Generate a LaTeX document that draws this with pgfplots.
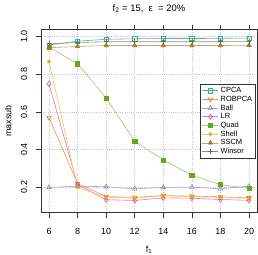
\documentclass[border=0pt]{standalone}
\usepackage{pgfplots}
\pgfplotsset{compat=1.18}
\usepackage{fontspec}
\setmainfont{Liberation Sans}
\definecolor{cCPCA}{HTML}{1B9E77}
\definecolor{cROB}{HTML}{D95F02}
\definecolor{cBall}{HTML}{7570B3}
\definecolor{cLR}{HTML}{E7298A}
\definecolor{cQuad}{HTML}{66A61E}
\definecolor{cShell}{HTML}{E6AB02}
\definecolor{cSSCM}{HTML}{A6761D}
\definecolor{cWin}{HTML}{666666}
\begin{document}
\begin{tikzpicture}
\useasboundingbox (-41bp,-42.3bp) rectangle (217bp,212.7bp);
\begin{axis}[
  scale only axis,
  width=216bp, height=183bp,
  xmin=5.44, xmax=20.56,
  ymin=0.064, ymax=1.036,
  xtick={6,8,10,12,14,16,18,20},
  ytick={0.2,0.4,0.6,0.8,1.0},
  yticklabels={0.2,0.4,0.6,0.8,1.0},
  tick align=outside,
  major tick length=5bp,
  tick style={black!80, line width=0.5bp},
  axis line style={black!80, line width=0.6bp},
  grid=major,
  major grid style={dash pattern=on 0.6bp off 1.6bp, black!22, line width=0.5bp},
  /pgf/number format/assume math mode=true,
  tick label style={font=\fontsize{9}{10}\selectfont},
  xticklabel style={anchor=center, yshift=-14bp},
  yticklabel style={rotate=90, anchor=center, yshift=12bp},
  xlabel={f\textsubscript{1}},
  ylabel={maxsub},
  xlabel style={font=\fontsize{9}{10}\selectfont, at={(axis description cs:0.5,-0.219)}, anchor=base},
  ylabel style={font=\fontsize{9}{10}\selectfont, at={(axis description cs:-0.152,0.5)}, anchor=center},
  title={f\textsubscript{2} = 15,\ \ ε\ \ = 20\%},
  title style={font=\fontsize{9.5}{10}\selectfont, at={(axis description cs:0.5,1.083)}, anchor=center},
  legend style={at={(rel axis cs:0.995,0.705)}, anchor=north east, draw=black!80, line width=0.5bp,
    font=\fontsize{7.5}{8}\selectfont, inner sep=1.5bp, row sep=-2.1bp,
    cells={anchor=west}},
  legend image code/.code={
    \draw[mark repeat=2,mark phase=2] plot coordinates {(0cm,0cm) (0.28cm,0cm) (0.56cm,0cm)};},
  every axis plot/.append style={line width=0.6bp},
]
\addplot[color=cCPCA!75, mark=square, mark size=2.1bp, mark options={solid, draw=cCPCA!85, line width=0.6bp}] coordinates {
(6,0.955) (8,0.975) (10,0.985) (12,0.988) (14,0.989) (16,0.989) (18,0.990) (20,0.992)};
\addlegendentry{CPCA}
\addplot[color=cROB!65, mark=triangle, mark size=2.6bp, mark options={rotate=180, draw=cROB!85, line width=0.6bp}] coordinates {
(6,0.569) (8,0.218) (10,0.150) (12,0.145) (14,0.155) (16,0.152) (18,0.148) (20,0.143)};
\addlegendentry{ROBPCA}
\addplot[color=cBall!65, mark=triangle, mark size=2.6bp, mark options={draw=cBall!85, line width=0.6bp}] coordinates {
(6,0.198) (8,0.205) (10,0.202) (12,0.191) (14,0.198) (16,0.200) (18,0.191) (20,0.205)};
\addlegendentry{Ball}
\addplot[color=cLR!65, mark=diamond, mark size=2.6bp, mark options={draw=cLR!85, line width=0.6bp}] coordinates {
(6,0.748) (8,0.213) (10,0.133) (12,0.129) (14,0.143) (16,0.141) (18,0.134) (20,0.130)};
\addlegendentry{LR}
\addplot[color=cQuad!65, mark=square*, mark size=2.1bp, mark options={draw=cQuad, fill=cQuad}] coordinates {
(6,0.943) (8,0.855) (10,0.673) (12,0.444) (14,0.344) (16,0.263) (18,0.213) (20,0.193)};
\addlegendentry{Quad}
\addplot[color=cShell!65, mark=*, mark size=1.6bp, mark options={draw=cShell, fill=cShell}] coordinates {
(6,0.867) (8,0.198) (10,0.147) (12,0.141) (14,0.154) (16,0.150) (18,0.145) (20,0.141)};
\addlegendentry{Shell}
\addplot[color=cSSCM!65, mark=triangle*, mark size=2.4bp, mark options={draw=cSSCM, fill=cSSCM}] coordinates {
(6,0.940) (8,0.947) (10,0.952) (12,0.952) (14,0.952) (16,0.952) (18,0.952) (20,0.953)};
\addlegendentry{SSCM}
\addplot[color=cWin!75, mark=+, mark size=2.4bp, mark options={draw=cWin, line width=0.7bp}] coordinates {
(6,0.961) (8,0.968) (10,0.972) (12,0.972) (14,0.972) (16,0.972) (18,0.972) (20,0.973)};
\addlegendentry{Winsor}
\end{axis}
\end{tikzpicture}
\end{document}
